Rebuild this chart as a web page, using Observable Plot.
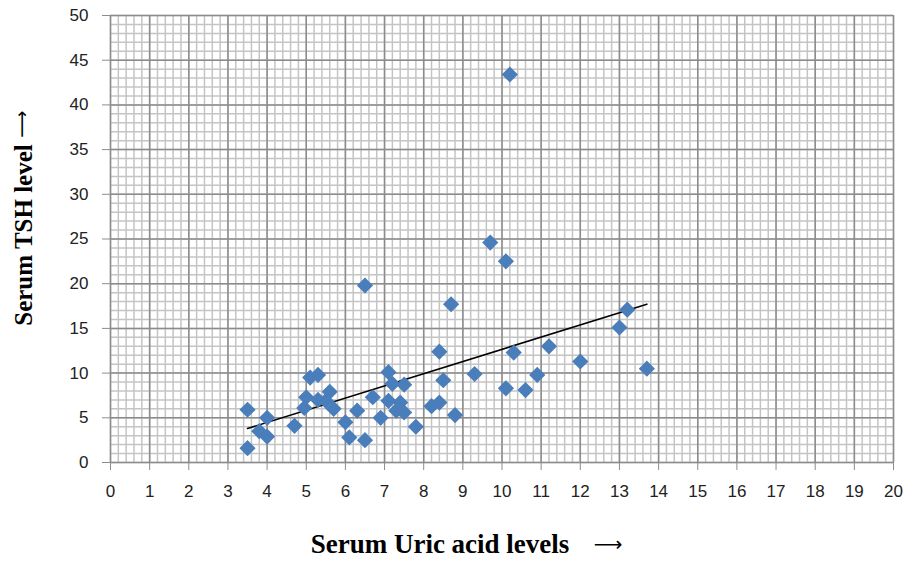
<!DOCTYPE html>
<html>
<head>
<meta charset="utf-8">
<script src="https://cdn.jsdelivr.net/npm/d3@7"></script>
<script src="https://cdn.jsdelivr.net/npm/@observablehq/plot@0.6"></script>
<style>
  html, body { margin: 0; padding: 0; background: #ffffff; }
  #chart { width: 916px; height: 564px; }
</style>
</head>
<body>
<div id="chart"></div>
<script>
// Serum uric acid (x) and serum TSH (y)
const uricAcid = [3.5, 3.5, 4.0, 3.8, 4.0, 4.7, 5.0, 4.95, 5.1, 5.3, 5.3, 5.6, 5.5, 5.7, 6.0, 6.1, 6.3, 6.5, 6.7, 6.9,
  7.1, 7.2, 7.1, 7.4, 7.3, 7.5, 7.5, 7.8, 8.2, 8.4, 8.4, 8.5, 8.8, 9.3, 9.7, 10.1, 8.7, 10.3, 11.2, 10.9,
  10.1, 10.6, 12.0, 13.0, 13.2, 13.7, 10.2, 6.5];
const tsh = [5.9, 1.6, 5.0, 3.5, 2.9, 4.1, 7.3, 6.1, 9.5, 9.8, 7.0, 7.9, 6.9, 6.0, 4.5, 2.8, 5.8, 2.5, 7.3, 5.0,
  10.1, 8.8, 6.9, 6.7, 5.8, 5.6, 8.7, 4.0, 6.3, 6.7, 12.4, 9.2, 5.3, 9.9, 24.6, 22.5, 17.7, 12.3, 13.0, 9.8,
  8.3, 8.1, 11.3, 15.1, 17.1, 10.5, 43.4, 19.8];

// Axis tick labels
const xTicks = [0, 1, 2, 3, 4, 5, 6, 7, 8, 9, 10, 11, 12, 13, 14, 15, 16, 17, 18, 19, 20];
const yTicks = [0, 5, 10, 15, 20, 25, 30, 35, 40, 45, 50];

const xLabel = "Serum Uric acid levels";
const yLabel = "Serum TSH level";
const arrow = "\u27F6";

const points = uricAcid.map((u, i) => ({u, t: tsh[i]}));
const minorX = d3.range(0, 101).map(i => i / 5);
const minorY = d3.range(0, 51);

const serif = "'Liberation Serif', 'Times New Roman', serif";

const chart = Plot.plot({
  width: 916,
  height: 564,
  marginLeft: 110,
  marginRight: 23,
  marginTop: 15,
  marginBottom: 102,
  style: {background: "#ffffff", fontFamily: "'Liberation Sans', Arial, sans-serif", color: "#222"},
  x: {domain: [0, 20]},
  y: {domain: [0, 50]},
  marks: [
    Plot.ruleX(minorX, {stroke: "#c4c4c4", strokeWidth: 1.5}),
    Plot.ruleY(minorY, {stroke: "#c4c4c4", strokeWidth: 1.5}),
    Plot.ruleX(xTicks, {stroke: "#8c8c8c", strokeWidth: 1.5}),
    Plot.ruleY(yTicks, {stroke: "#8c8c8c", strokeWidth: 1.5}),
    Plot.axisX({ticks: xTicks, tickSize: 8, tickPadding: 14, fontSize: 17, tickFormat: d => String(d), stroke: "#8c8c8c", label: null}),
    Plot.axisY({ticks: yTicks, tickSize: 8, tickPadding: 14, fontSize: 17, tickFormat: d => String(d), stroke: "#8c8c8c", label: null}),
    Plot.linearRegressionY(points, {x: "u", y: "t", ci: 0, stroke: "#000", strokeWidth: 1.6}),
    Plot.dot(points, {x: "u", y: "t", symbol: "diamond2", r: 7.3, fill: "#4a7ebb", stroke: "none"}),
    Plot.text([xLabel], {frameAnchor: "bottom", dx: -62, dy: 90, fontSize: 27, fontWeight: "bold",
      fontFamily: serif, fill: "#000", textAnchor: "middle"}),
    Plot.text([arrow], {frameAnchor: "bottom", dx: 106, dy: 88, fontSize: 20,
      fontFamily: "'DejaVu Sans', sans-serif", fill: "#000", textAnchor: "middle"}),
    Plot.text([yLabel], {frameAnchor: "left", dx: -87, dy: -4, rotate: -90, fontSize: 25, fontWeight: "bold",
      fontFamily: serif, fill: "#000", textAnchor: "middle"}),
    Plot.text([arrow], {frameAnchor: "left", dx: -89, dy: -115, rotate: -90, fontSize: 19,
      fontFamily: "'DejaVu Sans', sans-serif", fill: "#000", textAnchor: "middle"})
  ]
});
document.getElementById("chart").appendChild(chart);
</script>
</body>
</html>
